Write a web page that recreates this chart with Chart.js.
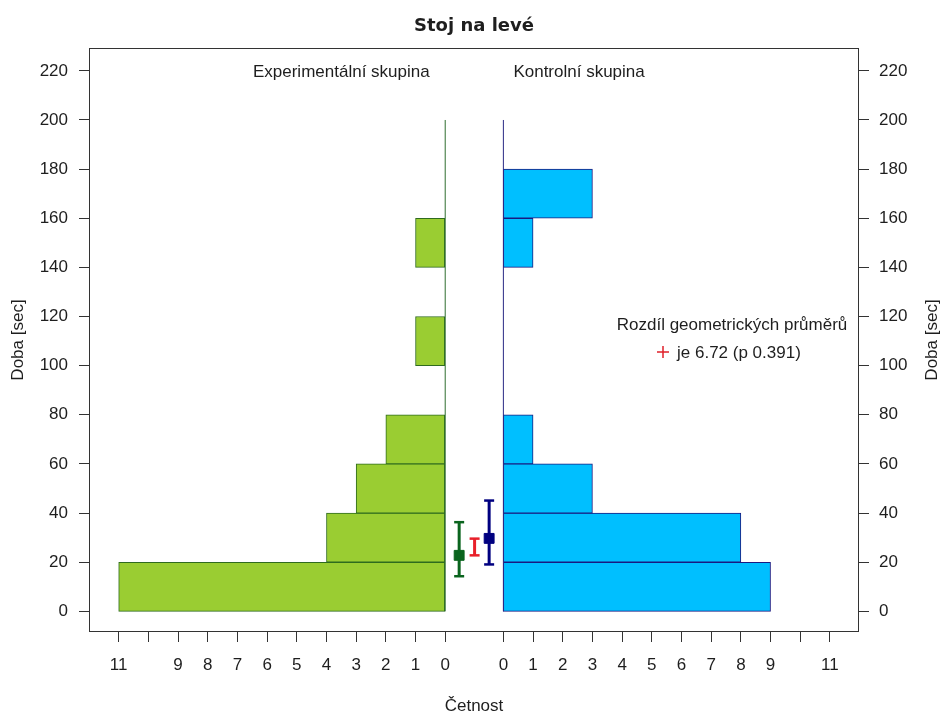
<!DOCTYPE html>
<html>
<head>
<meta charset="utf-8">
<title>Stoj na levé</title>
<script src="https://cdn.jsdelivr.net/npm/chart.js@4.4.1/dist/chart.umd.min.js"></script>
<style>
  html, body { margin: 0; padding: 0; background: #fff; }
  #wrap { width: 943px; height: 715px; }
</style>
</head>
<body>
<div id="wrap"><canvas id="chart" width="943" height="715"></canvas></div>
<script>
// histogram bins, Doba [sec]
const binStarts = [0, 20, 40, 60, 80, 100, 120, 140, 160, 180];
const binWidth = 20;
const expCounts = [11, 4, 3, 2, 0, 1, 0, 1, 0, 0];
const ctrlCounts = [9, 8, 3, 1, 0, 0, 0, 1, 3, 0];

// geometric means and their intervals
const expMean = 22.8;
const expInterval = [14.3, 36.3];
const ctrlMean = 29.7;
const ctrlInterval = [19.1, 45.1];
const diffInterval = [22.8, 29.6];

// axis ticks
const yTicks = [0, 20, 40, 60, 80, 100, 120, 140, 160, 180, 200, 220];
const countTicks = [0, 1, 2, 3, 4, 5, 6, 7, 8, 9, 10, 11];
const unlabeledCounts = [10];

const GAP = 1.96;          // offset of the right panel on the count axis
const EXP_POS = 0.47, DIFF_POS = 0.99, CTRL_POS = 1.48;
const FONT = "'Liberation Sans', Arial, sans-serif";
const TEXT = "#1e1e1e";

const mid = s => s + binWidth / 2;
const expBars = binStarts.map((s, i) => ({ y: mid(s), x: [-expCounts[i], 0] })).filter((d, i) => expCounts[i] > 0);
const ctrlBars = binStarts.map((s, i) => ({ y: mid(s), x: [GAP, GAP + ctrlCounts[i]] })).filter((d, i) => ctrlCounts[i] > 0);
const yTop = binStarts[binStarts.length - 1] + binWidth;

function errorBar(pos, lo, hi, color) {
    return {
        type: "line",
        data: [{ x: pos, y: lo }, { x: pos, y: hi }],
        borderColor: color,
        borderWidth: 3,
        pointStyle: "line",
        pointRadius: 5,
        pointBorderWidth: 2.5,
        pointBorderColor: color,
        xAxisID: "x", yAxisID: "y"
    };
}
function meanMark(pos, val, color) {
    return {
        type: "line",
        data: [{ x: pos, y: val }],
        showLine: false,
        pointStyle: "rect",
        pointRadius: 7,
        pointBackgroundColor: color,
        pointBorderColor: color,
        pointBorderWidth: 1,
        xAxisID: "x", yAxisID: "y"
    };
}
function baseLine(pos, color) {
    return {
        type: "line",
        data: [{ x: pos, y: 0 }, { x: pos, y: yTop }],
        borderColor: color,
        borderWidth: 1,
        pointRadius: 0,
        xAxisID: "x", yAxisID: "y"
    };
}

const textPlugin = {
    id: "texts",
    afterDraw(chart) {
        const ctx = chart.ctx;
        const a = chart.chartArea;
        const x = chart.scales.x, y = chart.scales.y;
        ctx.save();
        // frame
        ctx.strokeStyle = "#333";
        ctx.lineWidth = 1;
        ctx.strokeRect(a.left + 0.5, a.top + 0.5, a.right - a.left - 1, a.bottom - a.top - 1);

        ctx.fillStyle = TEXT;
        ctx.textBaseline = "middle";
        ctx.textAlign = "center";
        ctx.font = "bold 18px 'DejaVu Sans', sans-serif";
        ctx.fillText("Stoj na levé", (a.left + a.right) / 2, 26);

        ctx.font = "17px " + FONT;
        ctx.fillText("Experimentální skupina", x.getPixelForValue(-3.5), y.getPixelForValue(219.3));
        ctx.fillText("Kontrolní skupina", x.getPixelForValue(GAP + 2.55), y.getPixelForValue(219.3));
        ctx.fillText("Četnost", (a.left + a.right) / 2, 706);

        ctx.fillText("Rozdíl geometrických průměrů", 732, 325);
        ctx.textAlign = "left";
        ctx.fillText("je 6.72 (p 0.391)", 677, 353);
        ctx.strokeStyle = "#e0202a";
        ctx.lineWidth = 1.5;
        ctx.beginPath();
        ctx.moveTo(657, 352); ctx.lineTo(669, 352);
        ctx.moveTo(663, 346); ctx.lineTo(663, 358);
        ctx.stroke();

        // y axis titles, both read upward
        const ym = 340;
        [18, 932].forEach(px => {
            ctx.save();
            ctx.translate(px, ym);
            ctx.rotate(-Math.PI / 2);
            ctx.textAlign = "center";
            ctx.fillText("Doba [sec]", 0, 0);
            ctx.restore();
        });
        ctx.restore();
    }
};

const tickGrid = { drawOnChartArea: false, drawTicks: true, tickLength: 10, color: "#333", tickColor: "#333", offset: false };

const yScale = (position, pad) => ({
    type: "linear",
    position: position,
    min: -8.4,
    max: 229.3,
    offset: false,
    afterBuildTicks: s => { s.ticks = yTicks.map(v => ({ value: v })); },
    afterFit: s => { s.width = position === "left" ? 89 : 84; },
    grid: tickGrid,
    border: { display: false },
    ticks: { color: TEXT, font: { family: FONT, size: 17 }, padding: pad, autoSkip: false }
});

new Chart(document.getElementById("chart"), {
    type: "bar",
    data: {
        datasets: [
            errorBar(EXP_POS, expInterval[0], expInterval[1], "#0a641e"),
            meanMark(EXP_POS, expMean, "#0a641e"),
            errorBar(CTRL_POS, ctrlInterval[0], ctrlInterval[1], "#000080"),
            meanMark(CTRL_POS, ctrlMean, "#000080"),
            errorBar(DIFF_POS, diffInterval[0], diffInterval[1], "#e8202a"),
            baseLine(0, "#2f6e2f"),
            baseLine(GAP, "#2a2a85"),
            {
                label: "Experimentální skupina",
                data: expBars,
                indexAxis: "y",
                grouped: false,
                backgroundColor: "#9acd32",
                borderColor: "#2f6b1f",
                borderWidth: 1,
                borderSkipped: false,
                barPercentage: 1,
                categoryPercentage: 1,
                xAxisID: "x", yAxisID: "y"
            },
            {
                label: "Kontrolní skupina",
                data: ctrlBars,
                indexAxis: "y",
                grouped: false,
                backgroundColor: "#00bfff",
                borderColor: "#1a1a80",
                borderWidth: 1,
                borderSkipped: false,
                barPercentage: 1,
                categoryPercentage: 1,
                xAxisID: "x", yAxisID: "y"
            }
        ]
    },
    options: {
        responsive: false,
        animation: false,
        layout: { padding: { top: 48, left: 0, right: 0, bottom: 0 }, autoPadding: false },
        plugins: { legend: { display: false }, tooltip: { enabled: false }, title: { display: false } },
        scales: {
            x: {
                type: "linear",
                position: "bottom",
                min: -12,
                max: GAP + 11.98,
                offset: false,
                afterBuildTicks: s => {
                    const left = countTicks.map(c => ({ value: -c })).reverse();
                    const right = countTicks.map(c => ({ value: GAP + c }));
                    s.ticks = left.concat(right);
                },
                afterFit: s => { s.height = 83; },
                grid: tickGrid,
                border: { display: false },
                ticks: {
                    color: TEXT,
                    font: { family: FONT, size: 17 },
                    padding: 13,
                    autoSkip: false,
                    maxRotation: 0,
                    callback: v => {
                        const c = Math.round(v <= 0 ? -v : v - GAP);
                        return unlabeledCounts.includes(c) ? "" : String(c);
                    }
                }
            },
            y: yScale("left", 11),
            y2: yScale("right", 10)
        }
    },
    plugins: [textPlugin]
});
</script>
</body>
</html>
